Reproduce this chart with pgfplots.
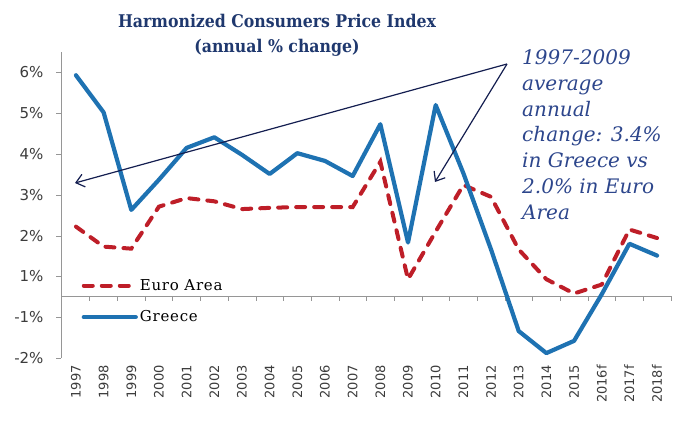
\documentclass[border=0pt]{standalone}
\usepackage{fontspec}
\setmainfont{DejaVu Serif}
\newfontfamily\tickfont{DejaVu Sans}
\newfontfamily\titlefont{DejaVu Serif Condensed}
\newfontfamily\legfont[LetterSpace=5]{DejaVu Serif}
\usepackage{pgfplots}
\pgfplotsset{compat=1.18}
\usetikzlibrary{arrows.meta}
\definecolor{greeceblue}{RGB}{30,114,178}
\definecolor{eured}{RGB}{190,30,40}
\definecolor{titleblue}{RGB}{31,56,110}
\definecolor{annblue}{RGB}{45,70,140}
\definecolor{arrownavy}{RGB}{20,30,80}
\definecolor{axisgray}{RGB}{150,150,150}
\definecolor{labelgray}{RGB}{60,60,60}
\pgfplotstableread{
x ea gr
0 2.22 5.93
1 1.73 5.02
2 1.68 2.63
3 2.71 3.37
4 2.92 4.15
5 2.84 4.41
6 2.65 3.98
7 2.68 3.51
8 2.70 4.02
9 2.70 3.83
10 2.70 3.46
11 3.81 4.73
12 0.93 1.83
13 2.10 5.20
14 3.24 3.53
15 2.95 1.66
16 1.66 -0.34
17 0.93 -0.88
18 0.58 -0.58
19 0.80 0.56
20 2.15 1.80
21 1.94 1.51
}\hicp
\begin{document}
\begin{tikzpicture}
\begin{axis}[
  at={(0pt,0pt)}, anchor=south west,
  scale only axis, width=611pt, height=306pt,
  xmin=-0.54, xmax=21.54, ymin=-1, ymax=6.5,
  axis y line=left, axis x line=bottom,
  axis line style={-, draw=axisgray},
  x axis line style={draw=none},
  xtick={0,...,21},
  xticklabels={1997,1998,1999,2000,2001,2002,2003,2004,2005,2006,2007,2008,2009,2010,2011,2012,2013,2014,2015,2016f,2017f,2018f},
  x tick label style={rotate=90, anchor=east, font=\tickfont\fontsize{13}{13}\selectfont, text=labelgray, inner sep=2pt},
  major x tick style={draw=none},
  ytick={-1,0,1,2,3,4,5,6},
  yticklabels={-2\%,-1\%,1\%,2\%,3\%,4\%,5\%,6\%},
  y tick label style={font=\tickfont\fontsize{15}{15}\selectfont, text=labelgray, xshift=-9pt},
  tick align=outside, major tick length=5pt,
  major y tick style={draw=axisgray},
  legend style={at={(axis cs:0.2,0.98)}, anchor=north west, draw=none, fill=none,
    font=\legfont\fontsize{15}{15}\selectfont, row sep=15pt, inner sep=0pt},
  legend cell align=left,
  legend image code/.code={\draw[#1] (0pt,0pt) -- (52pt,0pt);},
  clip=false,
]
\draw[axisgray, line width=0.8pt] (axis cs:-0.54,0.51) -- (axis cs:21.54,0.51);
\pgfplotsinvokeforeach{0.5,1.5,...,21.5}{
  \draw[axisgray, line width=0.6pt] (axis cs:#1,0.51) -- ++(0pt,-5pt);
}
\addplot[eured, line width=4pt, line cap=round, dash pattern=on 9pt off 9pt] table[x=x,y=ea] {\hicp};
\addlegendentry{Euro Area}
\addplot[greeceblue, line width=4.2pt, line join=round, line cap=round] table[x=x,y=gr] {\hicp};
\addlegendentry{Greece}
\end{axis}
% title
\node[anchor=base, font=\titlefont\bfseries\fontsize{17.5}{17.5}\selectfont, text=titleblue] at (216pt,330pt) {Harmonized Consumers Price Index};
\node[anchor=base, font=\titlefont\bfseries\fontsize{17.5}{17.5}\selectfont, text=titleblue] at (216pt,305pt) {(annual \% change)};
% annotation
\begin{scope}[every node/.style={anchor=base west, inner sep=0pt, font=\itshape\fontsize{20}{20}\selectfont, text=annblue}]
\node at (461pt,293pt) {1997-2009};
\node at (461pt,267pt) {average};
\node at (461pt,241pt) {annual};
\node at (461pt,216pt) {change: 3.4\%};
\node at (461pt,190pt) {in Greece vs};
\node at (461pt,164pt) {2.0\% in Euro};
\node at (461pt,138pt) {Area};
\end{scope}
\draw[arrownavy, line width=1.2pt, -{Straight Barb[length=8pt,width=13pt]}] (446pt,294pt) -- (14pt,175pt);
\draw[arrownavy, line width=1.2pt, -{Straight Barb[length=8pt,width=13pt]}] (446pt,294pt) -- (374pt,176pt);
\path[use as bounding box] (-61pt,-67pt) rectangle (621pt,358pt);
\end{tikzpicture}
\end{document}
